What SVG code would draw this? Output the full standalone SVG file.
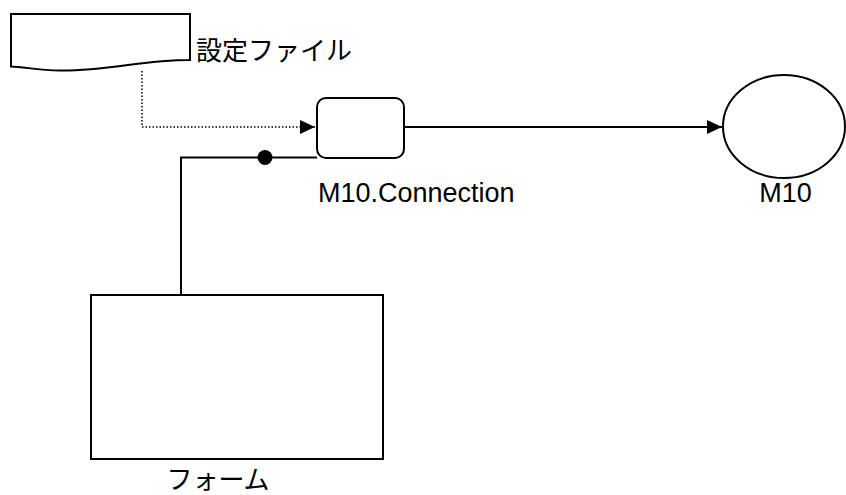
<svg xmlns="http://www.w3.org/2000/svg" width="846" height="495" viewBox="0 0 846 495">
<style>
.s{fill:#fff;stroke:#000;stroke-width:2}
.l{fill:none;stroke:#000;stroke-width:2}
.d{fill:none;stroke:#000;stroke-width:1.5;stroke-dasharray:1.5 2}
.t{font-family:"Liberation Sans",Arial,sans-serif;font-size:27px;fill:#000}
.j{font-family:"Noto Sans CJK JP","Noto Sans",sans-serif;font-size:26px;fill:#000}
</style>
<defs>
<marker id="a" markerUnits="userSpaceOnUse" markerWidth="16" markerHeight="16" viewBox="0 0 16 16" refX="15" refY="8" orient="auto">
<path d="M0,1 L15,8 L0,15 Z" fill="#000"/>
</marker>
</defs>
<rect width="846" height="495" fill="#fff"/>
<g id="connectors">
<path class="d" d="M142,71 V127 H315" marker-end="url(#a)"/>
<path class="l" d="M404,127 H722" marker-end="url(#a)"/>
<path class="l" d="M317,157.5 H181 V295"/>
<circle cx="265" cy="157.5" r="7.5" fill="#000"/>
</g>
<g id="settings-file">
<path class="s" d="M11,14 H190 V60 C140,60 110,71 60,70.5 C38,70.3 25,67 11,66.5 Z"/>
<text class="j" x="196" y="60">設定ファイル</text>
</g>
<g id="connection">
<rect class="s" x="317" y="98" width="87" height="60" rx="9"/>
<text class="t" x="318" y="202">M10.Connection</text>
</g>
<g id="m10">
<ellipse class="s" cx="784" cy="126.5" rx="61" ry="51.5"/>
<text class="t" x="785.5" y="202" text-anchor="middle">M10</text>
</g>
<g id="form">
<rect class="s" x="91" y="295" width="292" height="164"/>
<text class="j" x="218" y="489" text-anchor="middle">フォーム</text>
</g>
</svg>
